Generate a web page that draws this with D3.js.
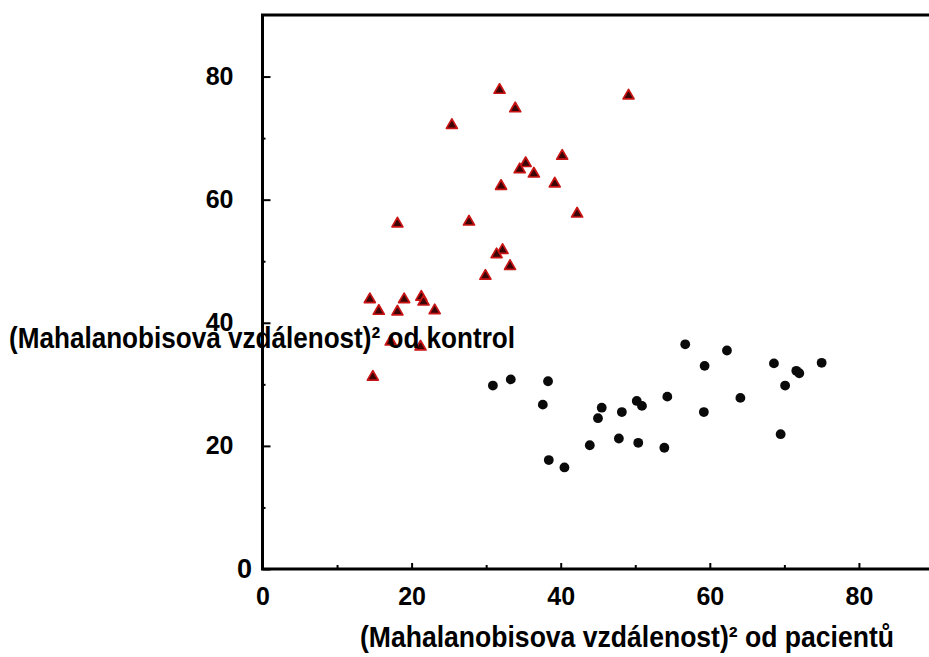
<!DOCTYPE html>
<html>
<head>
<meta charset="utf-8">
<script src="https://cdn.jsdelivr.net/npm/d3@7"></script>
<style>
  body { margin: 0; background: #fff; }
  svg { display: block; font-family: "Liberation Sans", Arial, sans-serif; font-weight: bold; }
</style>
</head>
<body>
<svg width="929" height="657"></svg>
<script>
// controls (triangles) - distance from patients / distance from controls
const controlX = [31.8, 33.9, 25.4, 40.2, 35.3, 34.5, 36.4, 32.0, 39.2, 42.2, 18.1, 27.7, 32.2, 31.4,
                  33.2, 29.9, 49.1, 14.4, 15.6, 18.1, 19.0, 21.3, 21.6, 23.1, 17.2, 21.2, 14.8];
const controlY = [77.8, 74.8, 72.1, 67.1, 65.9, 64.9, 64.2, 62.2, 62.6, 57.7, 56.1, 56.4, 51.8, 51.1,
                  49.2, 47.6, 76.9, 43.8, 41.9, 41.8, 43.8, 44.2, 43.4, 42.0, 36.9, 36.1, 31.2];
// patients (dots)
const patientX = [30.9, 33.3, 38.3, 37.6, 38.4, 40.5, 43.9, 45.0, 45.5, 47.8, 48.2, 50.4, 50.2, 50.9,
                  53.9, 54.3, 56.7, 59.2, 59.3, 62.3, 64.1, 68.6, 69.5, 70.1, 71.6, 72.0, 75.0];
const patientY = [29.8, 30.8, 30.5, 26.7, 17.7, 16.5, 20.1, 24.5, 26.2, 21.2, 25.5, 20.5, 27.3, 26.5,
                  19.7, 28.0, 36.5, 25.5, 33.0, 35.5, 27.8, 33.4, 21.9, 29.8, 32.2, 31.8, 33.5];
const majorTicks = [0, 20, 40, 60, 80];
const minorTicks = [10, 30, 50, 70];
const xTitle = "(Mahalanobisova vzdálenost)² od pacientů";
const yTitle = "(Mahalanobisova vzdálenost)² od kontrol";

const w = 929, h = 657;
const plotL = 262.5, plotT = 15, plotB = 569;

const scaleX = d3.scaleLinear().domain([0, 89.4]).range([plotL, w]);
const scaleY = d3.scaleLinear().domain([0, 90]).range([plotB, plotT]);

const svg = d3.select("svg");

// minor ticks first (no labels)
svg.append("g").attr("transform", `translate(${[plotL, 0]})`)
    .call(d3.axisLeft(scaleY).tickValues(minorTicks).tickSize(-3).tickFormat(""));
svg.append("g").attr("transform", `translate(${[0, plotB]})`)
    .call(d3.axisBottom(scaleX).tickValues(minorTicks).tickSize(-4).tickFormat(""));

// major ticks with labels
const yG = svg.append("g").attr("class", "y-axis")
    .attr("transform", `translate(${[plotL, 0]})`)
    .call(d3.axisLeft(scaleY).tickValues(majorTicks).tickSize(-8).tickPadding(29));
const xG = svg.append("g").attr("class", "x-axis")
    .attr("transform", `translate(${[0, plotB]})`)
    .call(d3.axisBottom(scaleX).tickValues(majorTicks).tickSize(-6).tickPadding(18));

svg.selectAll(".tick line").attr("stroke", "#000").attr("stroke-width", 2);
svg.selectAll(".domain").remove();
svg.selectAll(".tick text").attr("font-size", 25).attr("fill", "#000")
    .attr("font-family", "Liberation Sans, Arial, sans-serif").attr("font-weight", "bold");

// the y zero sits closer to the axis and a bit bigger
yG.selectAll(".tick").filter(d => d === 0).select("text")
    .attr("x", -10.5).attr("font-size", 27).attr("dy", "0.3em");

// frame: left, bottom, top
svg.append("path")
    .attr("d", `M${w},${plotT}H${plotL}V${plotB}H${w}`)
    .attr("fill", "none").attr("stroke", "#000").attr("stroke-width", 3);

// patients
svg.selectAll("circle.dot")
    .data(d3.zip(patientX, patientY))
    .join("circle").attr("class", "dot")
    .attr("cx", d => scaleX(d[0]))
    .attr("cy", d => scaleY(d[1]))
    .attr("r", 4.9)
    .attr("fill", "#0a0a0a");

// controls
const tri = d3.symbol().type(d3.symbolTriangle).size(52);
svg.selectAll("path.ctrl")
    .data(d3.zip(controlX, controlY))
    .join("path").attr("class", "ctrl")
    .attr("d", tri)
    .attr("transform", d => `translate(${[scaleX(d[0]), scaleY(d[1])]})`)
    .attr("fill", "#3c0505")
    .attr("stroke", "#c81414")
    .attr("stroke-width", 1.7)
    .attr("stroke-linejoin", "round");

// titles (the y title is laid flat across the plot, as in the source)
svg.append("text")
    .text(yTitle)
    .attr("x", 9).attr("y", 348)
    .attr("font-size", 30)
    .attr("textLength", 506).attr("lengthAdjust", "spacingAndGlyphs");
svg.append("text")
    .text(xTitle)
    .attr("x", 360).attr("y", 647)
    .attr("font-size", 29.5)
    .attr("textLength", 534).attr("lengthAdjust", "spacingAndGlyphs");
</script>
</body>
</html>
